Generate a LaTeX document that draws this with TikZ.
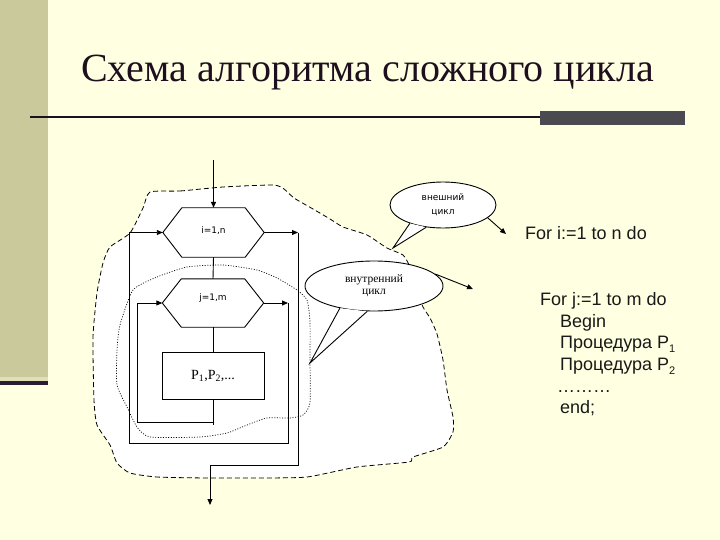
\documentclass[tikz,border=0pt]{standalone}
\usepackage{fontspec}
\setmainfont{Liberation Serif}
\newfontfamily\sansf{Liberation Sans}
\newfontfamily\dejav{DejaVu Sans}
\usetikzlibrary{shapes.geometric,arrows.meta}
\definecolor{bgcream}{HTML}{FFFFE1}
\definecolor{olivestrip}{HTML}{C9C99B}
\definecolor{darkstrip}{HTML}{2B1B33}
\definecolor{rulebar}{HTML}{4B4A50}
\definecolor{titlecol}{HTML}{1E0F1E}
\tikzset{
  flow/.style={line width=0.9pt, black},
  arr/.style={flow, -{Triangle[length=6pt,width=5pt]}},
  hexframe/.style={rectangle, minimum width=101pt, minimum height=49pt, inner sep=0pt, font=\dejav\fontsize{9}{10}\selectfont},
  pbox/.style={rectangle, draw, line width=0.9pt, minimum width=102pt, minimum height=47pt, inner sep=0pt, font=\fontsize{14}{16}\selectfont},
  bubble/.style={ellipse, draw, fill=white, line width=0.9pt, inner sep=0pt, align=center},
  code/.style={anchor=base west, inner sep=0pt, font=\sansf\fontsize{18}{20}\selectfont, text=black!90},
  blobline/.style={draw=black, line width=0.8pt, dash pattern=on 5pt off 3pt, fill=white},
  cloudline/.style={draw=black, line width=0.7pt, dash pattern=on 1pt off 1.6pt},
}
\newcommand{\hexdraw}[1]{%
  \draw[flow] (#1.west) -- ([xshift=19pt]#1.north west) -- ([xshift=-19pt]#1.north east) -- (#1.east) -- ([xshift=-19pt]#1.south east) -- ([xshift=19pt]#1.south west) -- cycle;}
\newcommand{\lowsub}[1]{\raisebox{-4pt}{\fontsize{11}{11}\selectfont #1}}
\begin{document}
\begin{tikzpicture}[x=1pt,y=-1pt]
\useasboundingbox (0,0) rectangle (720,540);
% background
\fill[bgcream] (0,0) rectangle (720,540);
\fill[olivestrip] (0,0) rectangle (48,377);
\fill[olivestrip!60!bgcream] (0,377) rectangle (48,381);
\fill[darkstrip] (0,381) rectangle (48,385);
% title
\node[anchor=base, inner sep=0pt, text=titlecol, font=\fontsize{40}{48}\selectfont] (title) at (367.5,82) {Схема алгоритма сложного цикла};
\coordinate (rl) at (30,117);
\coordinate (rr) at (540,117);
\draw[line width=2.2pt, titlecol] (rl) -- (rr);
\fill[rulebar] (540,111) rectangle (685,125);
% outer blob
\path[blobline] plot[smooth cycle, tension=0.35] coordinates {
 (150,192) (180,191) (223,187) (273,185) (284,189) (294,198) (313,209) (330,219)
 (343,227) (367,235) (387,248) (403,255) (410,267) (416,287) (423,307) (430,318)
 (437,334) (443,360) (447,390) (453,417) (453,432) (443,447) (413,457) (409,462)
 (357,467) (307,477) (257,478) (207,478) (157,477) (130,473) (117,463) (110,445)
 (97,425) (94,400) (93,337) (97,293) (103,263) (110,247) (130,233) (143,208)};
% inner dotted cloud
\draw[cloudline] plot[smooth cycle, tension=0.35] coordinates {
 (133,290) (157,277) (187,267) (223,265) (257,270) (277,278) (297,290) (307,300)
 (310,322) (310,360) (310,403) (303,415) (290,418) (267,418) (247,425) (227,433)
 (200,437) (150,437) (137,427) (127,407) (117,385) (117,350) (120,325)};
% flowchart nodes
\node[hexframe] (ho) at (213.5,232.5) {\raisebox{4pt}{i=1,n}};
\hexdraw{ho}
\node[hexframe, minimum height=48pt] (hj) at (213,303) {\raisebox{11pt}{j=1,m}};
\hexdraw{hj}
\node[pbox] (pb) at (213,375.5) {P\textsubscript{1},P\textsubscript{2},...};
% coordinates
\coordinate (entry) at (213.5,160);
\coordinate (ib) at (213,422);
\coordinate (il) at (137,422);
\coordinate (jr) at (288,303);
\coordinate (jrb) at (288,443);
\coordinate (olb) at (129,443);
\coordinate (ol) at (129,232.5);
\coordinate (orr) at (298,232.5);
\coordinate (orb) at (298,465);
\coordinate (exb) at (210,465);
\coordinate (exit) at (210,505);
% connectors
\draw[arr, line width=1.3pt] (entry) -- (ho.north);
\draw[flow] (ho.south) -- (hj.north);
\draw[flow] (hj.south) -- (pb.north);
\draw[flow] (pb.south) -- ([yshift=-3pt]ib);
\draw[arr] (ib) -- (il) |- (hj.west);
\draw[arr] (hj.east) -- (jr);
\draw[arr] (jr) -- (jrb) -- (olb) -- (ol) -- (ho.west);
\draw[arr] (ho.east) -- (orr);
\draw[arr] (orr) -- (orb) -- (exb) -- (exit);
% outer bubble
\node[bubble, minimum width=106pt, minimum height=46pt, font=\dejav\fontsize{9}{14}\selectfont] (eo) at (443,205) {внешний\\цикл};
\coordinate (eotip) at (393,248);
\fill[white] (eo.209) -- (eotip) -- (eo.233) -- cycle;
\draw[flow] (eo.209) -- (eotip) -- (eo.233);
% inner bubble
\node[bubble, minimum width=138pt, minimum height=50pt, font=\fontsize{11.5}{14}\selectfont] (ei) at (374,286) {\raisebox{-2pt}{внутренний}\\цикл};
\coordinate (eitip) at (310,363);
\fill[white] (ei.213) -- (eitip) -- (ei.255) -- cycle;
\draw[flow] (ei.213) -- (eitip) -- (ei.255);
% bubble arrows
\coordinate (fo) at (506,234);
\coordinate (fin) at (473,289);
\draw[arr] (eo.-16) -- (fo);
\draw[arr] (ei.11) -- (fin);
% code text
\node[code] (fi) at (525,240) {For i:=1 to n do};
\node[code] (fj) at (540,305) {For j:=1 to m do};
\node[code] (lbegin) at (560,327) {Begin};
\node[code] (lp1) at (560,348) {Процедура P\lowsub{1}};
\node[code] (lp2) at (560,370) {Процедура P\lowsub{2}};
\node[code] (ldots) at (557,392) {………};
\node[code] (lend) at (560,413) {end;};
\end{tikzpicture}
\end{document}
